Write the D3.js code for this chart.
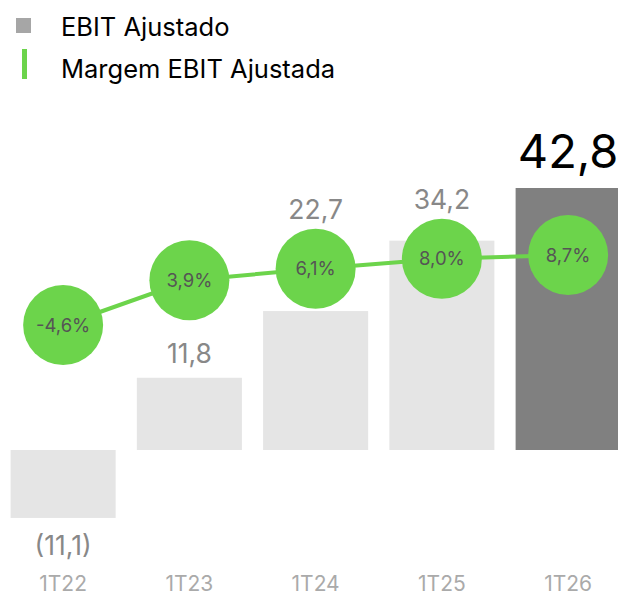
<!DOCTYPE html>
<html><head><meta charset="utf-8">
<script src="https://cdn.jsdelivr.net/npm/d3@7"></script>
<style>body{margin:0;background:#fff}svg{display:block;font-family:Inter,"Noto Sans",sans-serif}</style>
</head><body>
<script>
const categories = ["1T22","1T23","1T24","1T25","1T26"];
const ebit = [-11.1, 11.8, 22.7, 34.2, 42.8];
const ebitLabels = ["(11,1)","11,8","22,7","34,2","42,8"];
const margin = [-4.6, 3.9, 6.1, 8.0, 8.7];
const marginLabels = ["-4,6%","3,9%","6,1%","8,0%","8,7%"];
const legendItems = ["EBIT Ajustado","Margem EBIT Ajustada"];

const W = 618, H = 596;
const svg = d3.select("body").append("svg").attr("width", W).attr("height", H);

const x = d3.scaleBand().domain(categories).range([0, 631.25]).paddingInner(0.168).paddingOuter(0.084);
const y = d3.scaleLinear().domain([0, 42.8]).range([450, 188]);
const ym = d3.scaleLinear().domain([-4.6, 8.7]).range([325, 255]);
const green = "#6cd44b";
const R = 40;
const last = categories.length - 1;

// bars
svg.append("g").selectAll("rect").data(categories).join("rect")
  .attr("x", d => x(d))
  .attr("width", x.bandwidth())
  .attr("y", (d,i) => Math.min(y(ebit[i]), y(0)))
  .attr("height", (d,i) => Math.abs(y(ebit[i]) - y(0)))
  .attr("fill", (d,i) => i === last ? "#808080" : "#e5e5e5");

// value labels
svg.append("g").selectAll("text").data(categories).join("text")
  .attr("x", d => x(d) + x.bandwidth()/2)
  .attr("y", (d,i) => {
    const v = ebit[i];
    if (v < 0) return y(v) + 37;
    if (i === last) return y(v) - 20;
    let ly = y(v) - 15;
    const cTop = ym(margin[i]) - R, cBot = ym(margin[i]) + R;
    if (ly - 25 < cBot) ly = cTop - 10;
    return ly;
  })
  .attr("text-anchor", "middle")
  .attr("font-size", (d,i) => i === last ? 47 : 26.5)
  .attr("fill", (d,i) => i === last ? "#000" : "#888")
  .text((d,i) => ebitLabels[i]);

// margin line
const line = d3.line().x((d,i) => x(categories[i]) + x.bandwidth()/2).y(d => ym(d));
svg.append("path").datum(margin).attr("d", line)
  .attr("fill", "none").attr("stroke", green).attr("stroke-width", 4);

const cg = svg.append("g").selectAll("g").data(categories).join("g")
  .attr("transform", (d,i) => `translate(${x(d) + x.bandwidth()/2},${ym(margin[i])})`);
cg.append("circle").attr("r", R).attr("fill", green);
cg.append("text").attr("text-anchor", "middle").attr("dy", "0.36em")
  .attr("font-size", 18.5).attr("fill", "#555")
  .text((d,i) => marginLabels[i]);

// x axis labels
svg.append("g").selectAll("text").data(categories).join("text")
  .attr("x", d => x(d) + x.bandwidth()/2)
  .attr("y", 591)
  .attr("text-anchor", "middle")
  .attr("font-size", 21).attr("fill", "#aaa")
  .text(d => d);

// legend
const lg = svg.append("g");
lg.append("rect").attr("x", 16).attr("y", 18).attr("width", 15).attr("height", 15).attr("fill", "#a6a6a6");
lg.append("rect").attr("x", 22).attr("y", 49).attr("width", 5).attr("height", 30).attr("fill", green);
lg.selectAll("text").data(legendItems).join("text")
  .attr("x", 61).attr("y", (d,i) => 36 + i*42)
  .attr("font-size", 25.5).attr("fill", "#000")
  .text(d => d);
</script>
</body></html>
